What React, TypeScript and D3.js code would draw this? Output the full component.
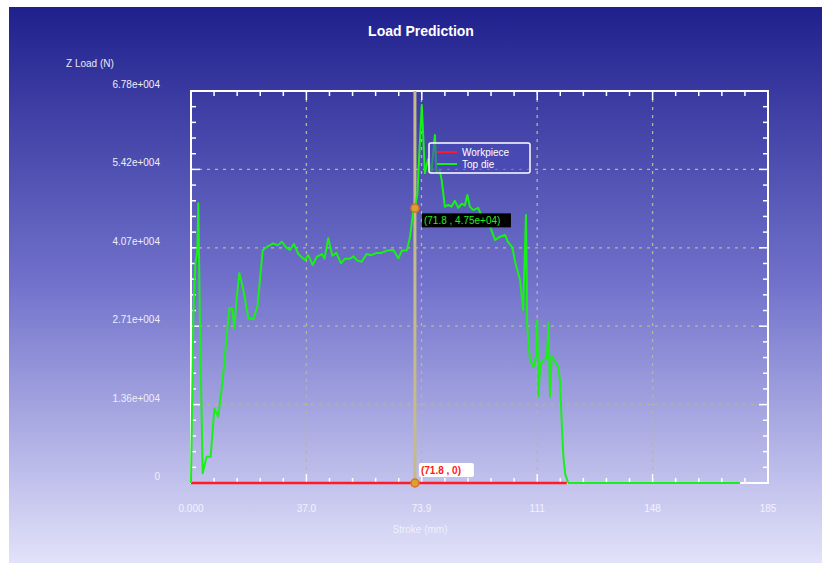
import { useEffect, useRef } from "react";
import * as d3 from "d3";

// stroke (mm) / load (N) for the top die
const topDieX = [0, 0.3, 0.8, 1.4, 2.0, 2.35, 2.8, 3.75, 5.0, 6.3, 7.5, 8.75, 10.15, 12.3, 13.2, 13.9, 14.6, 15.5, 16.8, 18.4, 20.0, 21.3, 22.1, 23.0, 24.5, 26.4, 27.8, 29.1, 30.6, 31.7, 33.0, 34.4, 36.5, 37.6, 39.0, 40.3, 42.0, 42.8, 44.0, 45.3, 46.6, 48.1, 49.4, 51.0, 52.1, 53.2, 54.7, 56.3, 57.8, 59.5, 61.1, 62.8, 64.9, 66.5, 67.6, 69.2, 70.2, 71.3, 71.8, 72.6, 73.3, 74.0, 75.0, 76.0, 77.1, 78.2, 78.7, 79.8, 80.4, 81.4, 82.5, 83.5, 84.6, 85.7, 86.8, 87.8, 88.6, 89.4, 90.5, 92.1, 93.2, 94.3, 95.9, 97.5, 99.1, 100.7, 101.5, 102.2, 103.0, 103.9, 105.5, 106.5, 107.4, 107.8, 108.7, 109.8, 110.6, 111.0, 111.4, 112.0, 113.0, 114.1, 114.6, 115.1, 115.6, 116.6, 117.7, 118.3, 118.9, 119.4, 120.0, 121.0, 130.0, 150.0, 176.0];
const topDieY = [0, 12000, 30000, 38000, 40000, 48400, 30000, 1700, 4550, 4550, 12900, 11470, 17800, 30200, 30200, 26750, 31700, 36270, 33380, 28480, 28310, 30500, 35100, 40300, 40870, 41460, 41100, 41740, 40700, 40300, 41340, 39600, 38570, 39400, 37700, 39100, 39600, 38800, 42320, 39300, 39800, 38000, 38800, 38800, 39200, 38500, 38280, 39600, 39400, 39800, 39800, 40200, 40300, 38860, 40200, 40200, 42500, 47220, 47500, 50100, 58000, 65400, 53570, 56000, 53800, 60190, 53800, 54000, 52300, 47800, 48100, 47800, 48800, 47600, 48300, 48000, 49800, 47800, 47200, 47600, 46060, 45000, 44330, 42030, 42600, 42900, 41800, 41300, 40800, 38280, 35110, 29920, 46350, 27040, 21270, 20100, 21900, 28190, 14930, 20600, 21300, 21600, 27620, 14930, 21900, 21200, 20100, 17810, 10000, 4550, 1500, 0, 0, 0, 0];

// workpiece load stays at zero
const workpieceX = [0, 120.5];
const workpieceY = [0, 0];

const yTicks = [0, 13560, 27120, 40680, 54240, 67800];
const yTickLabels = ["0", "1.36e+004", "2.71e+004", "4.07e+004", "5.42e+004", "6.78e+004"];
const xTicks = [0, 37, 73.9, 111, 148, 185];
const xTickLabels = ["0.000", "37.0", "73.9", "111", "148", "185"];

const cursorX = 71.8;
const cursorTopY = 47500;
const cursorTopLabel = "(71.8 , 4.75e+04)";
const cursorBottomLabel = "(71.8 , 0)";

export default function App() {
  const ref = useRef<SVGSVGElement>(null);

  useEffect(() => {
    const width = 822;
    const height = 563;
    const svg = d3.select(ref.current);
    svg.selectAll("*").remove();

    const defs = svg.append("defs");
    const grad = defs.append("linearGradient")
      .attr("id", "bg")
      .attr("x1", 0).attr("y1", 0).attr("x2", 0).attr("y2", 1);
    grad.append("stop").attr("offset", "0%").attr("stop-color", "#20208d");
    grad.append("stop").attr("offset", "50%").attr("stop-color", "#7272cc");
    grad.append("stop").attr("offset", "100%").attr("stop-color", "#e2e2fa");

    svg.append("rect").attr("width", width).attr("height", height).attr("fill", "#ffffff");
    svg.append("rect")
      .attr("x", 9).attr("y", 7)
      .attr("width", width - 9).attr("height", height - 7)
      .attr("fill", "url(#bg)");

    const left = 191, right = 768, top = 91, bottom = 483;
    const x = d3.scaleLinear().domain([0, 185]).range([left, right]);
    const y = d3.scaleLinear().domain([0, 67800]).range([bottom, top]);
    const path = d3.line<[number, number]>().x(d => x(d[0])).y(d => y(d[1]));

    const font = "Liberation Sans, Arial, sans-serif";

    // title + axis titles
    svg.append("text")
      .attr("x", 421).attr("y", 36)
      .attr("text-anchor", "middle")
      .attr("fill", "#ffffff")
      .attr("font-family", font)
      .attr("font-size", 14)
      .attr("font-weight", "bold")
      .text("Load Prediction");
    svg.append("text")
      .attr("x", 66).attr("y", 67)
      .attr("fill", "#e8e8f4")
      .attr("font-family", font)
      .attr("font-size", 10)
      .text("Z Load (N)");
    svg.append("text")
      .attr("x", 420).attr("y", 533)
      .attr("text-anchor", "middle")
      .attr("fill", "#f0f0fc")
      .attr("font-family", font)
      .attr("font-size", 10)
      .text("Stroke (mm)");

    // grid
    const grid = svg.append("g")
      .attr("stroke", "#b4ba8c")
      .attr("stroke-width", 1.3)
      .attr("stroke-dasharray", "3,5");
    grid.selectAll("line.gy")
      .data(yTicks.slice(1, -1))
      .join("line")
      .attr("class", "gy")
      .attr("x1", left).attr("x2", right)
      .attr("y1", d => y(d)).attr("y2", d => y(d));
    grid.selectAll("line.gx")
      .data(xTicks.slice(1, -1))
      .join("line")
      .attr("class", "gx")
      .attr("y1", top).attr("y2", bottom)
      .attr("x1", d => x(d)).attr("x2", d => x(d));

    // frame
    svg.append("rect")
      .attr("x", left).attr("y", top)
      .attr("width", right - left).attr("height", bottom - top)
      .attr("fill", "none")
      .attr("stroke", "#ffffff")
      .attr("stroke-width", 2);

    // ticks (inward, 4 minors between majors)
    const ticks = svg.append("g").attr("stroke", "#ffffff").attr("stroke-width", 1.5);
    const yMinor = d3.range(0, 26).map(i => i * 67800 / 25);
    const xMinor = d3.range(0, 26).map(i => i * 185 / 25);
    yMinor.forEach((v, i) => {
      const len = i % 5 === 0 ? 9 : 5;
      ticks.append("line").attr("x1", left).attr("x2", left + len).attr("y1", y(v)).attr("y2", y(v));
      ticks.append("line").attr("x1", right).attr("x2", right - len).attr("y1", y(v)).attr("y2", y(v));
    });
    xMinor.forEach((v, i) => {
      const len = i % 5 === 0 ? 9 : 5;
      ticks.append("line").attr("y1", bottom).attr("y2", bottom - len).attr("x1", x(v)).attr("x2", x(v));
      ticks.append("line").attr("y1", top).attr("y2", top + len).attr("x1", x(v)).attr("x2", x(v));
    });

    // tick labels
    svg.selectAll("text.yl")
      .data(yTicks)
      .join("text")
      .attr("class", "yl")
      .attr("x", 160)
      .attr("y", d => y(d) - 3)
      .attr("text-anchor", "end")
      .attr("fill", "#eeeef8")
      .attr("font-family", font)
      .attr("font-size", 10)
      .text((d, i) => yTickLabels[i]);
    svg.selectAll("text.xl")
      .data(xTicks)
      .join("text")
      .attr("class", "xl")
      .attr("x", d => x(d))
      .attr("y", 512)
      .attr("text-anchor", "middle")
      .attr("fill", "#f2f2fc")
      .attr("font-family", font)
      .attr("font-size", 10)
      .text((d, i) => xTickLabels[i]);

    // cursor line
    svg.append("line")
      .attr("x1", x(cursorX)).attr("x2", x(cursorX))
      .attr("y1", top).attr("y2", bottom)
      .attr("stroke", "#c6b98a")
      .attr("stroke-width", 3);

    // workpiece
    const wp = workpieceX.map((v, i) => [v, workpieceY[i]] as [number, number]);
    svg.append("path")
      .attr("d", path(wp))
      .attr("fill", "none")
      .attr("stroke", "#ff1a2a")
      .attr("stroke-width", 2.5);

    // top die
    const td = topDieX.map((v, i) => [v, topDieY[i]] as [number, number]);
    svg.append("path")
      .attr("d", path(td))
      .attr("fill", "none")
      .attr("stroke", "#19f019")
      .attr("stroke-width", 2)
      .attr("stroke-linejoin", "round");

    // cursor markers
    [cursorTopY, 0].forEach(v => {
      svg.append("circle")
        .attr("cx", x(cursorX)).attr("cy", y(v))
        .attr("r", 4)
        .attr("fill", "#d9a03a")
        .attr("stroke", "#e07020")
        .attr("stroke-width", 1.5);
    });

    // cursor labels
    const topLbl = svg.append("g").attr("transform", `translate(${x(cursorX) + 7},${y(cursorTopY) + 5})`);
    topLbl.append("rect").attr("width", 89).attr("height", 14).attr("fill", "#000000");
    topLbl.append("text")
      .attr("x", 2).attr("y", 11)
      .attr("fill", "#22ee22")
      .attr("font-family", font)
      .attr("font-size", 10)
      .text(cursorTopLabel);

    const botLbl = svg.append("g").attr("transform", `translate(${x(cursorX) + 4},${y(0) - 20})`);
    botLbl.append("rect").attr("width", 55).attr("height", 14).attr("fill", "#ffffff").attr("rx", 2);
    botLbl.append("text")
      .attr("x", 2).attr("y", 11)
      .attr("fill", "#ff2020")
      .attr("font-family", font)
      .attr("font-size", 10)
      .attr("font-weight", "bold")
      .text(cursorBottomLabel);

    // legend
    const lg = svg.append("g").attr("transform", "translate(429,143)");
    lg.append("rect")
      .attr("width", 101).attr("height", 30)
      .attr("fill", "#4848b8").attr("fill-opacity", 0.6)
      .attr("stroke", "#ffffff").attr("stroke-width", 1.5).attr("rx", 2);
    const entries = [
      { name: "Workpiece", color: "#ff1a2a" },
      { name: "Top die", color: "#19f019" },
    ];
    entries.forEach((e, i) => {
      lg.append("line")
        .attr("x1", 8).attr("x2", 28)
        .attr("y1", 9 + i * 12).attr("y2", 9 + i * 12)
        .attr("stroke", e.color).attr("stroke-width", 2);
      lg.append("text")
        .attr("x", 33).attr("y", 13 + i * 12)
        .attr("fill", "#ffffff")
        .attr("font-family", font)
        .attr("font-size", 10)
        .text(e.name);
    });
  }, []);

  return (
    <svg
      ref={ref}
      width={822}
      height={563}
      style={{ position: "absolute", left: 0, top: 0 }}
    />
  );
}
